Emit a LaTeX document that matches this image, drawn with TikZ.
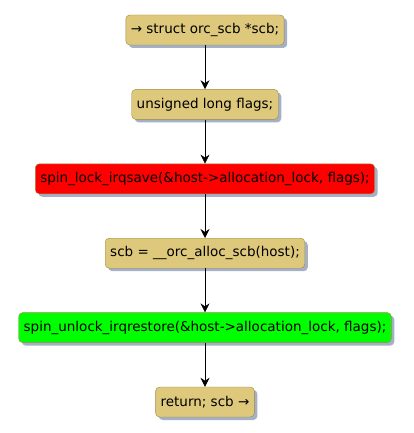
\documentclass[tikz,border=0pt]{standalone}
\usepackage{fontspec}
\setmainfont{DejaVu Sans}
\usepackage{xcolor}
\usepackage{tikz}
\usetikzlibrary{arrows.meta,positioning,shadows}
\definecolor{tan}{HTML}{DDC87C}
\definecolor{tanline}{HTML}{A08A40}
\definecolor{shade}{HTML}{A3B0C6}
\definecolor{lockred}{HTML}{FF0000}
\definecolor{unlockgreen}{HTML}{00FF00}

\begin{document}
\begin{tikzpicture}[font=\fontsize{13.5pt}{16pt}\selectfont,
  act/.style={draw=tanline,fill=tan,rounded corners=4pt,inner xsep=5pt,minimum height=30pt,
    drop shadow={shadow xshift=3pt,shadow yshift=-3pt,fill=shade,opacity=1}},
  lock/.style={act,fill=lockred},
  unlock/.style={act,fill=unlockgreen},
  ar/.style={-{Stealth[length=9pt,width=9pt,inset=3pt]},draw=black,semithick}]

\useasboundingbox (0,0) rectangle (413pt,-433pt);

\node[act] (s1) at (205pt,-30pt) {→ struct orc\_scb *scb;};
\node[act,below=44pt of s1] (s2) {unsigned long flags;};
\node[lock,below=44pt of s2] (s3) {spin\_lock\_irqsave(\&host->allocation\_lock, flags);};
\node[act,below=44pt of s3] (s4) {scb = \_\_orc\_alloc\_scb(host);};
\node[unlock,below=44pt of s4] (s5) {spin\_unlock\_irqrestore(\&host->allocation\_lock, flags);};
\node[act,below=44pt of s5] (s6) {return; scb →};
\draw[ar](s1)--(s2); \draw[ar](s2)--(s3); \draw[ar](s3)--(s4); \draw[ar](s4)--(s5); \draw[ar](s5)--(s6);
\end{tikzpicture}
\end{document}
